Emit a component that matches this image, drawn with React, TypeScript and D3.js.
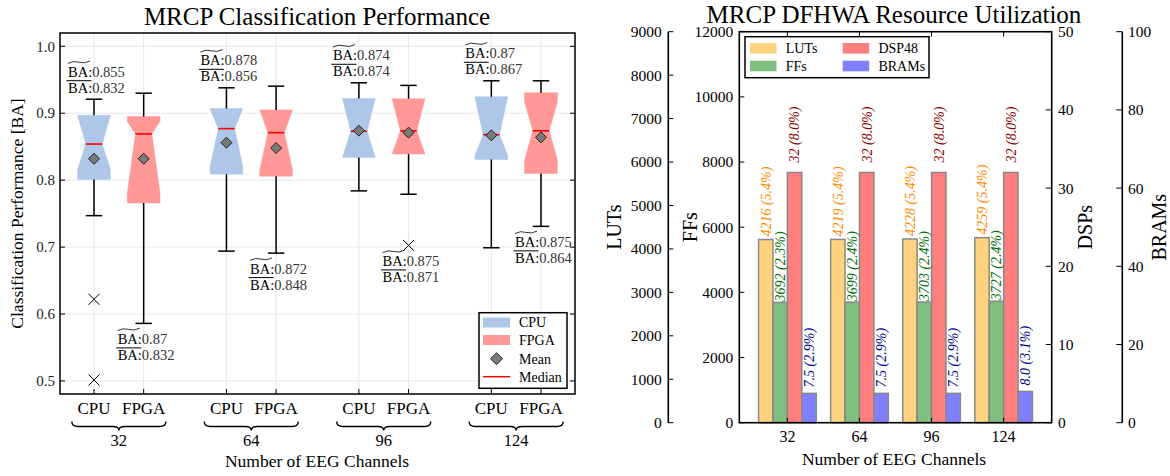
import React from 'react';
import * as d3 from 'd3';

// ---- data ----
const channels = ['32', '64', '96', '124'];

const cpuStats = [
  { lo: 0.747, q1: 0.801, med: 0.854, q3: 0.897, hi: 0.921, mean: 0.832, nlo: 0.816, nhi: 0.897 },
  { lo: 0.694, q1: 0.809, med: 0.877, q3: 0.907, hi: 0.938, mean: 0.856, nlo: 0.82, nhi: 0.907 },
  { lo: 0.784, q1: 0.834, med: 0.873, q3: 0.922, hi: 0.9455, mean: 0.874, nlo: 0.834, nhi: 0.922 },
  { lo: 0.699, q1: 0.831, med: 0.868, q3: 0.9246, hi: 0.9485, mean: 0.867, nlo: 0.837, nhi: 0.9246 },
];
const fpgaStats = [
  { lo: 0.586, q1: 0.766, med: 0.869, q3: 0.895, hi: 0.93, mean: 0.832, nlo: 0.78, nhi: 0.888 },
  { lo: 0.691, q1: 0.806, med: 0.871, q3: 0.905, hi: 0.9405, mean: 0.848, nlo: 0.815, nhi: 0.905 },
  { lo: 0.779, q1: 0.839, med: 0.8737, q3: 0.9216, hi: 0.9416, mean: 0.871, nlo: 0.839, nhi: 0.9216 },
  { lo: 0.731, q1: 0.81, med: 0.8737, q3: 0.9306, hi: 0.9485, mean: 0.864, nlo: 0.83, nhi: 0.917 },
];
const cpuOutliers = [[0.622, 0.5015], [], [], []];
const fpgaOutliers = [[], [], [0.7025], []];

const cpuMedianLabels = ['0.855', '0.878', '0.874', '0.87'];
const cpuMeanLabels = ['0.832', '0.856', '0.874', '0.867'];
const fpgaMedianLabels = ['0.87', '0.872', '0.875', '0.875'];
const fpgaMeanLabels = ['0.832', '0.848', '0.871', '0.864'];

const baTicks = [0.5, 0.6, 0.7, 0.8, 0.9, 1.0];

const lutValues = [4216, 4219, 4228, 4259];
const lutPct = ['5.4%', '5.4%', '5.4%', '5.4%'];
const ffValues = [3692, 3699, 3703, 3727];
const ffPct = ['2.3%', '2.4%', '2.4%', '2.4%'];
const dspValues = [32, 32, 32, 32];
const dspPct = ['8.0%', '8.0%', '8.0%', '8.0%'];
const bramValues = [7.5, 7.5, 7.5, 8.0];
const bramPct = ['2.9%', '2.9%', '2.9%', '3.1%'];

const lutTicks = [0, 1000, 2000, 3000, 4000, 5000, 6000, 7000, 8000, 9000];
const ffTicks = [0, 2000, 4000, 6000, 8000, 10000, 12000];
const dspTicks = [0, 10, 20, 30, 40, 50];
const bramTicks = [0, 20, 40, 60, 80, 100];

const FONT = '"Liberation Serif", "Times New Roman", serif';
const CPU_COLOR = '#aec7e8';
const FPGA_COLOR = '#ff9896';

// ---- left chart: boxplots ----
function BoxPlot() {
  const L = { x0: 60, x1: 575, y0: 33, y1: 394 };
  const gap = 8 / 3;
  const x = d3.scaleLinear().domain([-0.6846, 9.6846]).range([L.x0, L.x1]);
  const y = d3.scaleLinear().domain([0.4805, 1.0199]).range([L.y1, L.y0]);
  const boxW = x(0.66) - x(0);

  const boxes: any[] = [];
  channels.forEach((c, i) => {
    boxes.push({ pos: i * gap, s: cpuStats[i], fill: CPU_COLOR, out: cpuOutliers[i], name: 'CPU', med: cpuMedianLabels[i], mean: cpuMeanLabels[i], above: true });
    boxes.push({ pos: i * gap + 1, s: fpgaStats[i], fill: FPGA_COLOR, out: fpgaOutliers[i], name: 'FPGA', med: fpgaMedianLabels[i], mean: fpgaMeanLabels[i], above: false });
  });

  const boxPath = (cx: number, s: any) => {
    const l = cx - boxW / 2, r = cx + boxW / 2;
    const ml = cx - boxW / 4, mr = cx + boxW / 4;
    const nlo = Math.max(s.nlo, s.q1), nhi = Math.min(s.nhi, s.q3);
    const pts = [
      [l, y(s.q1)], [l, y(nlo)], [ml, y(s.med)], [l, y(nhi)], [l, y(s.q3)],
      [r, y(s.q3)], [r, y(nhi)], [mr, y(s.med)], [r, y(nlo)], [r, y(s.q1)],
    ];
    return 'M' + pts.map(p => p.join(',')).join('L') + 'Z';
  };

  const label = (b: any, k: number) => {
    const lx = x(b.pos) - 26;
    let b1: number, b2: number;
    if (b.above) {
      const top = y(Math.max(b.s.hi, ...b.out));
      b1 = top - 22.5; b2 = top - 6.5;
    } else {
      const bot = y(Math.min(b.s.lo, ...b.out));
      b1 = bot + 20.5; b2 = bot + 36.5;
    }
    const tw = 22;
    const ty = b1 - 14.5;
    return (
      <g key={'lab' + k} fontSize={14.5}>
        <path d={`M${lx},${ty + 1.2} Q${lx + tw / 4},${ty - 1.8} ${lx + tw / 2},${ty} T${lx + tw},${ty - 1.2}`} fill="none" stroke="#000" strokeWidth={0.8} />
        <text x={lx} y={b1}><tspan fill="#000">BA:</tspan><tspan fill="#333">{b.med}</tspan></text>
        <line x1={lx - 1.5} x2={lx + 23.5} y1={b2 - 12} y2={b2 - 12} stroke="#000" strokeWidth={1} />
        <text x={lx} y={b2}><tspan fill="#000">BA:</tspan><tspan fill="#333">{b.mean}</tspan></text>
      </g>
    );
  };

  const brace = (cx: number, hw: number, by: number) =>
    `M${cx - hw},${by} Q${cx - hw},${by + 5} ${cx - hw + 6},${by + 5} L${cx - 6},${by + 5} Q${cx},${by + 5} ${cx},${by + 9} Q${cx},${by + 5} ${cx + 6},${by + 5} L${cx + hw - 6},${by + 5} Q${cx + hw},${by + 5} ${cx + hw},${by}`;

  return (
    <g fontFamily={FONT}>
      <text x={317} y={25} fontSize={25} textAnchor="middle">MRCP Classification Performance</text>
      {/* grid */}
      {baTicks.map(t => (
        <line key={'gy' + t} x1={L.x0} x2={L.x1} y1={y(t)} y2={y(t)} stroke="#e8e8e8" strokeWidth={1} />
      ))}
      {boxes.map((b, k) => (
        <line key={'gx' + k} x1={x(b.pos)} x2={x(b.pos)} y1={L.y0} y2={L.y1} stroke="#e8e8e8" strokeWidth={1} />
      ))}
      {/* boxes */}
      {boxes.map((b, k) => {
        const cx = x(b.pos);
        const cap = boxW / 4;
        return (
          <g key={'b' + k}>
            <path d={boxPath(cx, b.s)} fill={b.fill} stroke={b.fill} strokeWidth={0.5} />
            <line x1={cx} x2={cx} y1={y(b.s.q3)} y2={y(b.s.hi)} stroke="#000" strokeWidth={1.5} />
            <line x1={cx} x2={cx} y1={y(b.s.q1)} y2={y(b.s.lo)} stroke="#000" strokeWidth={1.5} />
            <line x1={cx - cap} x2={cx + cap} y1={y(b.s.hi)} y2={y(b.s.hi)} stroke="#000" strokeWidth={1.5} />
            <line x1={cx - cap} x2={cx + cap} y1={y(b.s.lo)} y2={y(b.s.lo)} stroke="#000" strokeWidth={1.5} />
            <line x1={cx - boxW / 4} x2={cx + boxW / 4} y1={y(b.s.med)} y2={y(b.s.med)} stroke="#ff0000" strokeWidth={1.6} />
            <path d={`M${cx},${y(b.s.mean) - 5.5}L${cx + 5.5},${y(b.s.mean)}L${cx},${y(b.s.mean) + 5.5}L${cx - 5.5},${y(b.s.mean)}Z`} fill="#7a7a7a" stroke="#000" strokeWidth={0.8} />
            {b.out.map((o: number, j: number) => (
              <path key={j} d={`M${cx - 5.5},${y(o) - 5.5}L${cx + 5.5},${y(o) + 5.5}M${cx - 5.5},${y(o) + 5.5}L${cx + 5.5},${y(o) - 5.5}`} stroke="#000" strokeWidth={1} />
            ))}
          </g>
        );
      })}
      {boxes.map((b, k) => label(b, k))}
      {/* ticks */}
      {baTicks.map(t => (
        <g key={'ty' + t}>
          <line x1={L.x0} x2={L.x0 + 5} y1={y(t)} y2={y(t)} stroke="#000" strokeWidth={1} />
          <line x1={L.x1} x2={L.x1 - 5} y1={y(t)} y2={y(t)} stroke="#000" strokeWidth={1} />
          <text x={L.x0 - 5} y={y(t)} dy="0.35em" textAnchor="end" fontSize={15} fill="#222">{t.toFixed(1)}</text>
        </g>
      ))}
      {boxes.map((b, k) => (
        <g key={'tx' + k}>
          <line x1={x(b.pos)} x2={x(b.pos)} y1={L.y1} y2={L.y1 - 5} stroke="#000" strokeWidth={1} />
          <text x={x(b.pos)} y={413.5} textAnchor="middle" fontSize={17}>{b.name}</text>
        </g>
      ))}
      <rect x={L.x0} y={L.y0} width={L.x1 - L.x0} height={L.y1 - L.y0} fill="none" stroke="#000" strokeWidth={1.5} />
      {channels.map((c, i) => {
        const cx = x(i * gap + 0.5);
        return (
          <g key={'br' + c}>
            <path d={brace(cx, 47, 421.5)} fill="none" stroke="#000" strokeWidth={1.4} />
            <text x={cx} y={446} textAnchor="middle" fontSize={16.5}>{c}</text>
          </g>
        );
      })}
      <text x={317} y={467} textAnchor="middle" fontSize={17.5}>Number of EEG Channels</text>
      <text transform={`translate(23,${(L.y0 + L.y1) / 2}) rotate(-90)`} textAnchor="middle" fontSize={17.5}>Classification Performance [BA]</text>
      {/* legend */}
      <g fontSize={14}>
        <rect x={479} y={312.7} width={88} height={75.6} fill="#fff" stroke="#000" strokeWidth={1.5} />
        <rect x={483} y={317.5} width={27} height={10} fill={CPU_COLOR} />
        <text x={519} y={322.3} dy="0.35em">CPU</text>
        <rect x={483} y={335} width={27} height={10} fill={FPGA_COLOR} />
        <text x={519} y={340} dy="0.35em">FPGA</text>
        <path d="M496.5,352.7L502.5,358.7L496.5,364.7L490.5,358.7Z" fill="#7a7a7a" stroke="#000" strokeWidth={0.8} />
        <text x={519} y={358.7} dy="0.35em">Mean</text>
        <line x1={483} x2={510} y1={376.7} y2={376.7} stroke="#ff0000" strokeWidth={1.5} />
        <text x={519} y={376.7} dy="0.35em">Median</text>
      </g>
    </g>
  );
}

// ---- right chart: resource bars on four y axes ----
function ResourceChart() {
  const R = { x0: 739.3, x1: 1051.7, y0: 31.7, y1: 422.7 };
  const x = d3.scaleLinear().domain([-0.667, 3.667]).range([R.x0, R.x1]);
  const yLut = d3.scaleLinear().domain([0, 9000]).range([R.y1, R.y0]);
  const yFf = d3.scaleLinear().domain([0, 12000]).range([R.y1, R.y0]);
  const yDsp = d3.scaleLinear().domain([0, 50]).range([R.y1, R.y0]);
  const yBram = d3.scaleLinear().domain([0, 100]).range([R.y1, R.y0]);
  const bw = 0.2;

  const series = [
    { name: 'LUTs', vals: lutValues, pct: lutPct, y: yLut, fill: '#ffd27f', text: '#ff8c00', off: -1.5, gap: 3, fmt: (v: number) => String(v) },
    { name: 'FFs', vals: ffValues, pct: ffPct, y: yFf, fill: '#7fbf7f', text: '#007000', off: -0.5, gap: 1, fmt: (v: number) => String(v) },
    { name: 'DSP48', vals: dspValues, pct: dspPct, y: yDsp, fill: '#ff7f7f', text: '#8b0000', off: 0.5, gap: 10, fmt: (v: number) => String(v) },
    { name: 'BRAMs', vals: bramValues, pct: bramPct, y: yBram, fill: '#7f7fff', text: '#00008b', off: 1.5, gap: 6, fmt: (v: number) => v.toFixed(1) },
  ];

  const lutAxisX = 668.3;
  const bramAxisX = 1122.3;

  return (
    <g fontFamily={FONT}>
      <text x={894} y={22.5} fontSize={25} textAnchor="middle">MRCP DFHWA Resource Utilization</text>
      {/* bars */}
      {series.map(s => s.vals.map((v, i) => {
        const bx = x(i + s.off * bw - bw / 2);
        const w = x(bw) - x(0);
        return (
          <rect key={s.name + i} x={bx} y={s.y(v)} width={w} height={R.y1 - s.y(v)} fill={s.fill} stroke="#888" strokeWidth={1.5} />
        );
      }))}
      {series.map(s => s.vals.map((v, i) => {
        const cx = x(i + s.off * bw);
        return (
          <text key={'t' + s.name + i} transform={`translate(${cx},${s.y(v) - s.gap}) rotate(-90)`} dy="0.35em" fontSize={14} fontStyle="italic" fill={s.text}>
            {`${s.fmt(v)} (${s.pct[i]})`}
          </text>
        );
      }))}
      {/* main frame and x ticks */}
      <rect x={R.x0} y={R.y0} width={R.x1 - R.x0} height={R.y1 - R.y0} fill="none" stroke="#000" strokeWidth={1.6} />
      {channels.map((c, i) => (
        <g key={'x' + c}>
          <line x1={x(i)} x2={x(i)} y1={R.y0} y2={R.y0 + 5} stroke="#000" strokeWidth={1} />
          <line x1={x(i)} x2={x(i)} y1={R.y1} y2={R.y1 - 5} stroke="#000" strokeWidth={1} />
          <text x={x(i)} y={442} textAnchor="middle" fontSize={16}>{c}</text>
        </g>
      ))}
      <text x={894} y={465} textAnchor="middle" fontSize={17.5}>Number of EEG Channels</text>
      {/* FF axis (main left) */}
      {ffTicks.map(t => (
        <g key={'ff' + t}>
          <line x1={R.x0} x2={R.x0 + 5} y1={yFf(t)} y2={yFf(t)} stroke="#000" strokeWidth={1} />
          <text x={733.3} y={yFf(t)} dy="0.35em" textAnchor="end" fontSize={15.5}>{t}</text>
        </g>
      ))}
      <text transform={`translate(697,${(R.y0 + R.y1) / 2}) rotate(-90)`} textAnchor="middle" fontSize={20}>FFs</text>
      {/* LUT axis (outer left) */}
      <line x1={lutAxisX} x2={lutAxisX} y1={R.y0} y2={R.y1} stroke="#000" strokeWidth={1.6} />
      {lutTicks.map(t => (
        <g key={'lut' + t}>
          <line x1={lutAxisX} x2={lutAxisX + 5} y1={yLut(t)} y2={yLut(t)} stroke="#000" strokeWidth={1} />
          <text x={661.7} y={yLut(t)} dy="0.35em" textAnchor="end" fontSize={15.5}>{t}</text>
        </g>
      ))}
      <text transform={`translate(621,${(R.y0 + R.y1) / 2}) rotate(-90)`} textAnchor="middle" fontSize={20}>LUTs</text>
      {/* DSP axis (main right) */}
      {dspTicks.map(t => (
        <g key={'dsp' + t}>
          <line x1={R.x1} x2={R.x1 - 6} y1={yDsp(t)} y2={yDsp(t)} stroke="#000" strokeWidth={1} />
          <text x={1058} y={yDsp(t)} dy="0.35em" fontSize={15.5}>{t}</text>
        </g>
      ))}
      <text transform={`translate(1092,${(R.y0 + R.y1) / 2}) rotate(-90)`} textAnchor="middle" fontSize={20}>DSPs</text>
      {/* BRAM axis (outer right) */}
      <line x1={bramAxisX} x2={bramAxisX} y1={R.y0} y2={R.y1} stroke="#000" strokeWidth={1.6} />
      {bramTicks.map(t => (
        <g key={'bram' + t}>
          <line x1={bramAxisX} x2={bramAxisX - 6} y1={yBram(t)} y2={yBram(t)} stroke="#000" strokeWidth={1} />
          <text x={1128} y={yBram(t)} dy="0.35em" fontSize={15.5}>{t}</text>
        </g>
      ))}
      <text transform={`translate(1166,${(R.y0 + R.y1) / 2}) rotate(-90)`} textAnchor="middle" fontSize={20}>BRAMs</text>
      {/* legend */}
      <g fontSize={14}>
        <rect x={745} y={36.7} width={184} height={41} fill="#fff" stroke="#000" strokeWidth={1.5} />
        {series.map((s, k) => {
          const lx = k < 2 ? 750 : 842.7;
          const ly = k % 2 === 0 ? 48.3 : 66;
          return (
            <g key={'lg' + s.name}>
              <rect x={lx} y={ly - 5.3} width={26.5} height={10.6} fill={s.fill} />
              <text x={lx + 35.7} y={ly} dy="0.35em">{s.name}</text>
            </g>
          );
        })}
      </g>
    </g>
  );
}

export default function App() {
  return (
    <svg width={1170} height={476} style={{ display: 'block', position: 'absolute', left: 0, top: 0, background: '#fff' }}>
      <rect width={1170} height={476} fill="#fff" />
      <BoxPlot />
      <ResourceChart />
    </svg>
  );
}
